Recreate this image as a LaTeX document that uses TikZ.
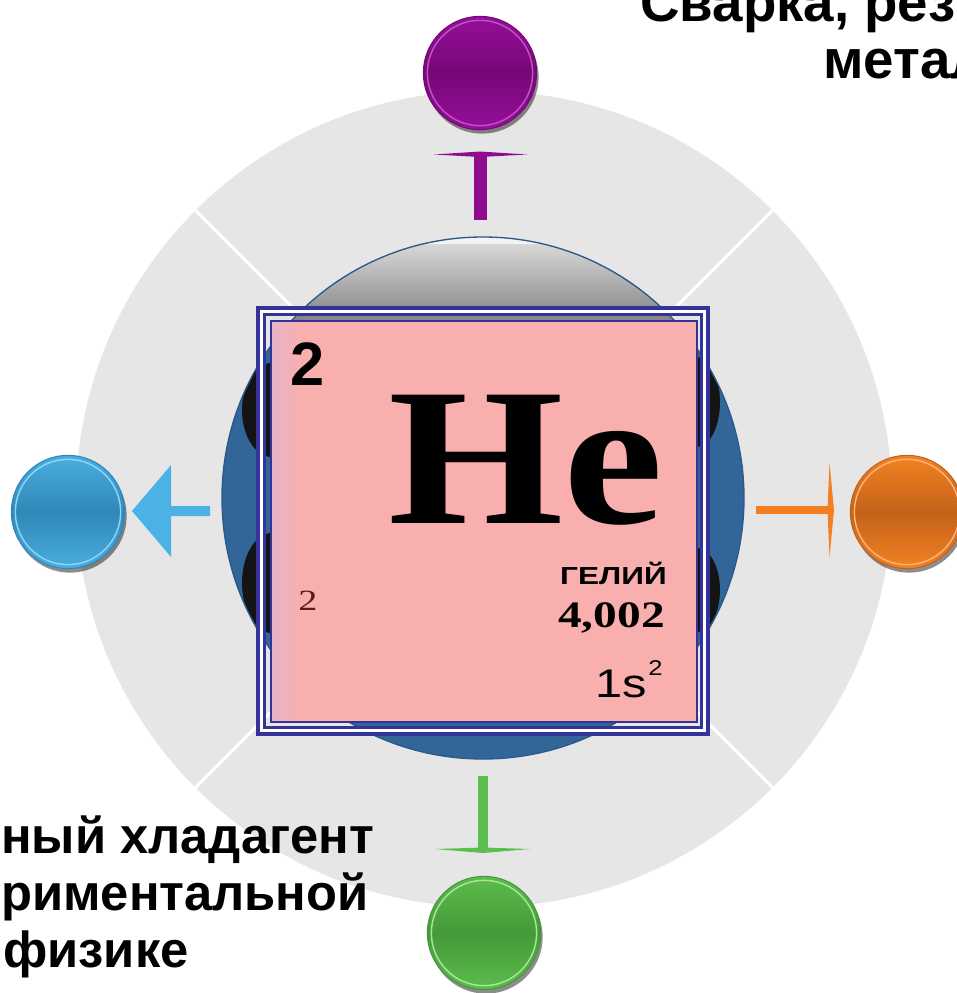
\documentclass[tikz,border=0pt]{standalone}
\usepackage{fontspec}
\setmainfont{Liberation Serif}
\newfontfamily\arial{Liberation Sans}
\usetikzlibrary{shadows}
\definecolor{bgGrey}{HTML}{E6E6E6}
\definecolor{coreBlue}{HTML}{326699}
\definecolor{coreEdge}{HTML}{2A5A8C}
\definecolor{frame}{HTML}{333399}
\definecolor{cardPink}{HTML}{F9AFAD}
\definecolor{cardLeft}{HTML}{E4B4C8}
\definecolor{maroon}{HTML}{5A1A1A}
\definecolor{pTop}{HTML}{960E98}\definecolor{pMid}{HTML}{760878}\definecolor{pRim}{HTML}{C050C4}
\definecolor{bTop}{HTML}{48AEE0}\definecolor{bMid}{HTML}{3088B8}\definecolor{bRim}{HTML}{90D4F4}
\definecolor{oTop}{HTML}{F28222}\definecolor{oMid}{HTML}{C4621A}\definecolor{oRim}{HTML}{FAB27A}
\definecolor{gTop}{HTML}{5CBC4C}\definecolor{gMid}{HTML}{449A38}\definecolor{gRim}{HTML}{A8E49A}
\definecolor{aPurple}{HTML}{8E0A8E}
\definecolor{aBlue}{HTML}{4AB2E4}
\definecolor{aOrange}{HTML}{F47F20}
\definecolor{aGreen}{HTML}{5BBE4E}
\tikzset{
  ball/.style n args={3}{circle, minimum size=85pt, inner sep=0pt, draw=#1, line width=0.8pt,
    top color=#2, bottom color=#2, middle color=#3,
    drop shadow={shadow xshift=1.5pt, shadow yshift=-3pt, opacity=0.45, fill=black}},
  rim/.style={line width=1.1pt},
  bigtext/.style={anchor=base west, inner sep=0pt, font=\arial\bfseries\fontsize{38}{38}\selectfont},
  toptext/.style={anchor=base west, inner sep=0pt, font=\arial\bfseries\fontsize{41}{41}\selectfont},
}
\begin{document}
\begin{tikzpicture}[x=0.75pt,y=-0.75pt]
\useasboundingbox[fill=white] (0,0) rectangle (957,993);

% big grey disc and white dividers
\fill[bgGrey] (484,499) circle[radius=408];
\foreach \dx/\dy in {-1/-1,1/-1,-1/1,1/1}
  \draw[white, line width=2.2pt] (484,499) -- ++(\dx*289,\dy*289);

% blue core
\fill[coreBlue] (483,498) circle[radius=261];
\begin{scope}
  \clip (483,498) circle[radius=261];
  \shade[top color=black!12, bottom color=black!48] (200,236) rectangle (770,320);
  \fill[white, opacity=0.7] (400,237) rectangle (570,244);
  \fill[black!92] (272,410) ellipse[x radius=30, y radius=47];
  \fill[black!92] (272,583) ellipse[x radius=30, y radius=50];
  \fill[black!92] (697,402) ellipse[x radius=23, y radius=45];
  \fill[black!92] (697,590) ellipse[x radius=23, y radius=42];
\end{scope}
\draw[coreEdge, line width=1pt] (483,498) circle[radius=261];

% element card frame
\draw[frame, line width=3pt] (258,308) rectangle (708,734);
\draw[white, line width=2.2pt] (261.5,311.5) rectangle (704.5,730.5);
\draw[frame, line width=2pt] (264.5,314.5) rectangle (701.5,727.5);
\fill[cardPink] (271,321) rectangle (697,722);
\shade[left color=cardLeft, right color=cardPink] (271,321) rectangle (300,722);
\draw[frame, line width=2pt] (271,321) rectangle (697,722);

% card texts
\node[anchor=base west, inner sep=0pt, font=\arial\bfseries\fontsize{46}{46}\selectfont] (num) at (290,385) {2};
\node[anchor=base west, inner sep=0pt, font=\bfseries\fontsize{147}{147}\selectfont] (sym) at (388,523) {\scalebox{1.15}[1]{He}};
\node[anchor=base east, inner sep=0pt, font=\arial\bfseries\fontsize{18.5}{18.5}\selectfont] (name) at (667,584) {\scalebox{1.28}[1]{ГЕЛИЙ}};
\node[anchor=base east, inner sep=0pt, font=\bfseries\fontsize{28}{28}\selectfont] (mass) at (665,627) {\scalebox{1.27}[1]{4,002}};
\node[anchor=base east, inner sep=0pt, font=\arial\fontsize{30}{30}\selectfont] (conf) at (647,697) {\scalebox{1.22}[1]{1s}};
\node[anchor=base west, inner sep=0pt, font=\arial\fontsize{16}{16}\selectfont] (sup2) at (648,675) {\scalebox{1.2}[1]{2}};
\node[anchor=base west, inner sep=0pt, text=maroon, font=\fontsize{22}{22}\selectfont] (shell) at (298,610) {\scalebox{1.3}[1]{2}};

% arrows
\fill[aPurple] (474,155) rectangle (487,220);
\fill[aPurple] (434,154.5) -- (480,151.5) -- (527,154.5) -- (480,157) -- cycle;
\fill[aBlue] (132,511) -- (171,465) -- (171,506) -- (210,506) -- (210,516) -- (171,516) -- (171,557) -- cycle;
\fill[aOrange] (756,506) rectangle (830,514);
\fill[aOrange] (829.5,463) -- (834,510) -- (829.5,557) -- (827.5,510) -- cycle;
\fill[aGreen] (478,776) rectangle (488,849);
\fill[aGreen] (435,849) -- (483,847.5) -- (530,849) -- (483,853) -- cycle;

% glossy balls
\node[ball={pMid}{pTop}{pMid}] (top) at (480,73) {};
\draw[pRim, rim] (top.center) circle[radius=39.5pt];
\node[ball={bMid}{bTop}{bMid}] (left) at (68,512) {};
\draw[bRim, rim] (left.center) circle[radius=39.5pt];
\node[ball={oMid}{oTop}{oMid}] (right) at (907,512) {};
\draw[oRim, rim] (right.center) circle[radius=39.5pt];
\node[ball={gMid}{gTop}{gMid}] (bottom) at (484,933) {};
\draw[gRim, rim] (bottom.center) circle[radius=39.5pt];

% outer captions
\node[toptext] (c1) at (640,21) {Сварка, рез};
\node[toptext] (c2) at (823,78) {метал};
\node[bigtext] (d1) at (1,853) {ный хладагент};
\node[bigtext] (d2) at (1,910) {риментальной};
\node[bigtext] (d3) at (3,967) {физике};
\end{tikzpicture}
\end{document}
